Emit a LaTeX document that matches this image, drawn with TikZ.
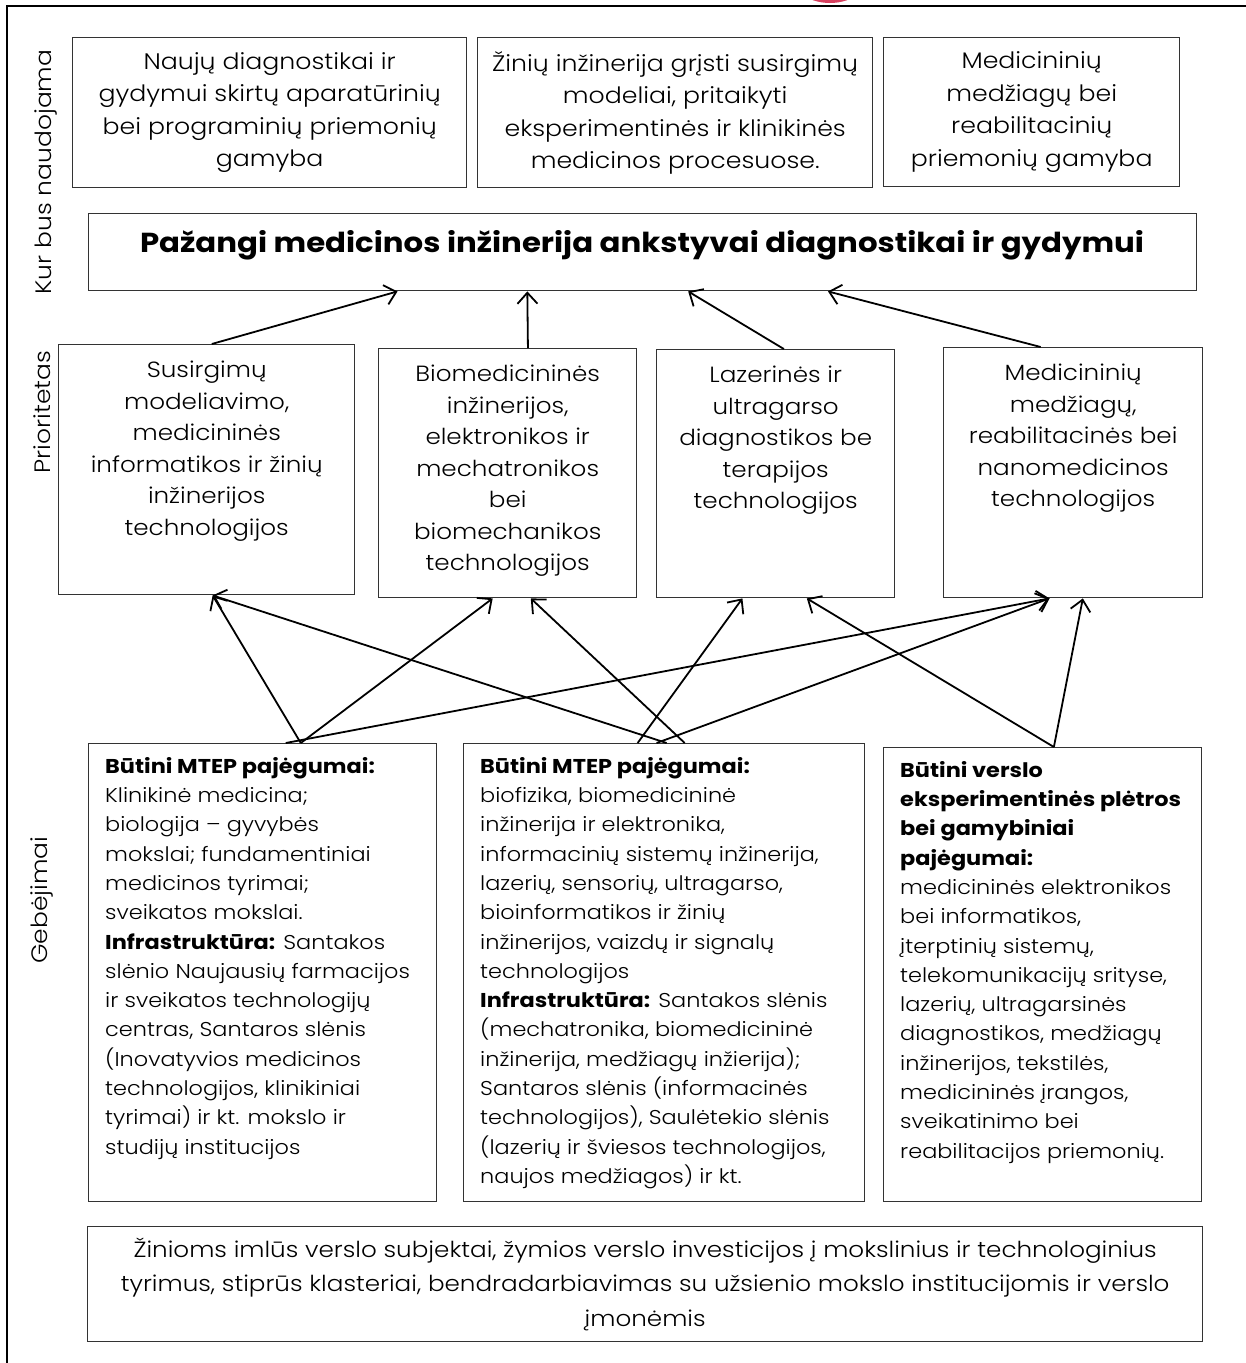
\documentclass[tikz,border=0pt]{standalone}
\usepackage{fontspec}
\setmainfont{Poppins}[FakeStretch=1.12,UprightFont={* Light},BoldFont={* Bold}]
\usetikzlibrary{arrows.meta,calc}
\definecolor{boxline}{rgb}{0.2,0.2,0.2}
\definecolor{logored}{RGB}{215,65,95}
\begin{document}
\begin{tikzpicture}[x=1pt,y=-1pt,
  box/.style={draw=boxline,line width=1.4pt,anchor=north west,inner sep=0pt},
  toptxt/.style={align=center,font=\fontsize{22.5}{32.5}\selectfont,inner sep=0pt},
  ptxt/.style={align=center,font=\fontsize{22}{31.5}\selectfont,inner sep=0pt,anchor=north},
  btxt/.style={align=left,font=\fontsize{20}{29.3}\selectfont,inner sep=0pt,anchor=north west},
  sidelab/.style={rotate=90,font=\fontsize{22.3}{30}\selectfont,inner sep=0pt},
  arr/.style={line width=1.8pt,-{Straight Barb[length=11pt,width=20pt,line width=1.8pt]}}]
\useasboundingbox (0,0) rectangle (1246,1363);
\clip (0,0) rectangle (1246,1363);
\fill[white] (0,0) rectangle (1246,1363);
% logo fragment
\fill[logored] (830,-30) ellipse [x radius=42, y radius=33];
% outer frame
\draw[line width=2.6pt] (7,1380) -- (7,6) -- (1260,6);
% side labels
\node[sidelab] (lab1) at (46,172) {Kur bus naudojama};
\node[sidelab] (lab2) at (42,412) {Prioritetas};
\node[sidelab] (lab3) at (42,900) {Gebėjimai};
% top boxes
\node[box,minimum width=394pt,minimum height=150pt] (t1) at (72,37) {};
\node[toptxt] at (t1.center) {Naujų diagnostikai ir\\gydymui skirtų aparatūrinių\\bei programinių priemonių\\gamyba};
\node[box,minimum width=395pt,minimum height=150pt] (t2) at (477,37) {};
\node[toptxt] at (t2.center) {Žinių inžinerija grįsti susirgimų\\modeliai, pritaikyti\\eksperimentinės ir klinikinės\\medicinos procesuose.};
\node[box,minimum width=296pt,minimum height=149pt] (t3) at (883,37) {};
\node[toptxt] at (t3.center) {Medicininių\\medžiagų bei\\reabilitacinių\\priemonių gamyba};
% title
\node[box,minimum width=1108pt,minimum height=77pt] (ti) at (88,213) {};
\node[font=\fontsize{27.5}{30}\selectfont\bfseries,inner sep=0pt] at (642,245) {Pažangi medicinos inžinerija ankstyvai diagnostikai ir gydymui};
% priority boxes
\node[box,minimum width=296pt,minimum height=250pt] (p1) at (58,344) {};
\node[ptxt] at ($(p1.north)+(0,17)$) {Susirgimų\\modeliavimo,\\medicininės\\informatikos ir žinių\\inžinerijos\\technologijos};
\node[box,minimum width=258pt,minimum height=249pt] (p2) at (378,348) {};
\node[ptxt] at ($(p2.north)+(0,17)$) {Biomedicininės\\inžinerijos,\\elektronikos ir\\mechatronikos\\bei\\biomechanikos\\technologijos};
\node[box,minimum width=238pt,minimum height=248pt] (p3) at (656,349) {};
\node[ptxt] at ($(p3.north)+(0,17)$) {Lazerinės ir\\ultragarso\\diagnostikos be\\terapijos\\technologijos};
\node[box,minimum width=259pt,minimum height=250pt] (p4) at (943,347) {};
\node[ptxt] at ($(p4.north)+(0,17)$) {Medicininių\\medžiagų,\\reabilitacinės bei\\nanomedicinos\\technologijos};
% bottom boxes
\node[box,minimum width=348pt,minimum height=458pt] (b1) at (88,743) {};
\node[btxt] at (105,757) {\textbf{Būtini MTEP pajėgumai:}\\Klinikinė medicina;\\biologija – gyvybės\\mokslai; fundamentiniai\\medicinos tyrimai;\\sveikatos mokslai.\\\textbf{Infrastruktūra:} Santakos\\slėnio Naujausių farmacijos\\ir sveikatos technologijų\\centras, Santaros slėnis\\(Inovatyvios medicinos\\technologijos, klinikiniai\\tyrimai) ir kt. mokslo ir\\studijų institucijos};
\node[box,minimum width=401pt,minimum height=458pt] (b2) at (463,743) {};
\node[btxt] at (480,757) {\textbf{Būtini MTEP pajėgumai:}\\biofizika, biomedicininė\\inžinerija ir elektronika,\\informacinių sistemų inžinerija,\\lazerių, sensorių, ultragarso,\\bioinformatikos ir žinių\\inžinerijos, vaizdų ir signalų\\technologijos\\\textbf{Infrastruktūra:} Santakos slėnis\\(mechatronika, biomedicininė\\inžinerija, medžiagų inžierija);\\Santaros slėnis (informacinės\\technologijos), Saulėtekio slėnis\\(lazerių ir šviesos technologijos,\\naujos medžiagos) ir kt.};
\node[box,minimum width=318pt,minimum height=454pt] (b3) at (883,747) {};
\node[btxt] at (900,761) {\textbf{Būtini verslo}\\\textbf{eksperimentinės plėtros}\\\textbf{bei gamybiniai}\\\textbf{pajėgumai:}\\medicininės elektronikos\\bei informatikos,\\įterptinių sistemų,\\telekomunikacijų srityse,\\lazerių, ultragarsinės\\diagnostikos, medžiagų\\inžinerijos, tekstilės,\\medicininės įrangos,\\sveikatinimo bei\\reabilitacijos priemonių.};
% final box
\node[box,minimum width=1115pt,minimum height=115pt] (fb) at (87,1226) {};
\node[align=center,font=\fontsize{22}{34.5}\selectfont,inner sep=0pt] at (fb.center) {Žinioms imlūs verslo subjektai, žymios verslo investicijos į mokslinius ir technologinius\\tyrimus, stiprūs klasteriai, bendradarbiavimas su užsienio mokslo institucijomis ir verslo\\įmonėmis};
% arrows to title
\draw[arr] ($(p1.north west)!0.517!(p1.north east)$) -- ($(ti.south west)!0.279!(ti.south east)$);
\draw[arr] ($(p2.north west)!0.578!(p2.north east)$) -- ($(ti.south west)!0.396!(ti.south east)$);
\draw[arr] ($(p3.north west)!0.534!(p3.north east)$) -- ($(ti.south west)!0.541!(ti.south east)$);
\draw[arr] ($(p4.north west)!0.375!(p4.north east)$) -- ($(ti.south west)!0.667!(ti.south east)$);
% arrows from capability boxes
\draw[arr] ($(b1.north west)!0.609!(b1.north east)$) -- ($(p1.south west)!0.52!(p1.south east)$);
\draw[arr] ($(b1.north west)!0.609!(b1.north east)$) -- ($(p2.south west)!0.442!(p2.south east)$);
\draw[arr] ($(b1.north west)!0.566!(b1.north east)$) -- ($(p4.south west)!0.409!(p4.south east)$);
\draw[arr] ($(b2.north west)!0.434!(b2.north east)$) -- ($(p3.south west)!0.361!(p3.south east)$);
\draw[arr] ($(b2.north west)!0.481!(b2.north east)$) -- ($(p4.south west)!0.409!(p4.south east)$);
\draw[arr] ($(b2.north west)!0.506!(b2.north east)$) -- ($(p1.south west)!0.52!(p1.south east)$);
\draw[arr] ($(b2.north west)!0.551!(b2.north east)$) -- ($(p2.south west)!0.589!(p2.south east)$);
\draw[arr] ($(b3.north west)!0.535!(b3.north east)$) -- ($(p3.south west)!0.63!(p3.south east)$);
\draw[arr] ($(b3.north west)!0.535!(b3.north east)$) -- ($(p4.south west)!0.537!(p4.south east)$);
\end{tikzpicture}
\end{document}
